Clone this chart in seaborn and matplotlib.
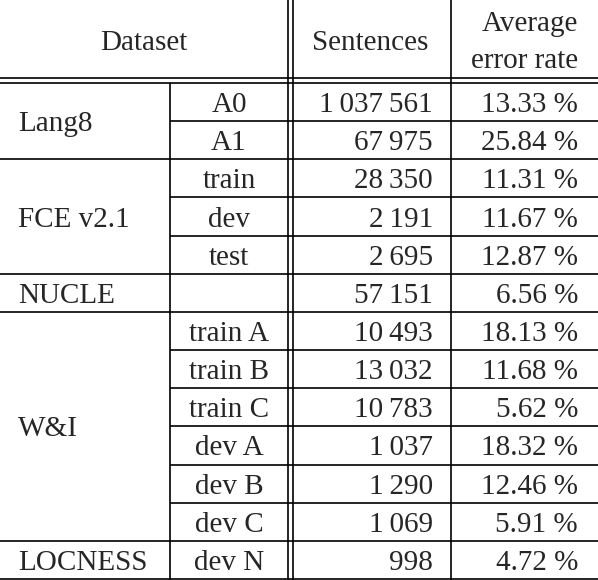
import matplotlib
matplotlib.use("Agg")
import matplotlib.pyplot as plt
import seaborn as sns

sns.set_style("white")
plt.rcParams['font.family'] = ['Liberation Serif', 'DejaVu Serif']

groups = ["Lang8", "FCE v2.1", "NUCLE", "W&I", "LOCNESS"]
group_sizes = [2, 3, 1, 6, 1]
splits = ["A0", "A1", "train", "dev", "test", "", "train A", "train B", "train C",
          "dev A", "dev B", "dev C", "dev N"]
sentences = ["1\u2009037\u2009561", "67\u2009975", "28\u2009350", "2\u2009191", "2\u2009695",
             "57\u2009151", "10\u2009493", "13\u2009032", "10\u2009783", "1\u2009037",
             "1\u2009290", "1\u2009069", "998"]
error_rates = ["13.33 %", "25.84 %", "11.31 %", "11.67 %", "12.87 %", "6.56 %",
               "18.13 %", "11.68 %", "5.62 %", "18.32 %", "12.46 %", "5.91 %", "4.72 %"]

W, H = 598, 580
fig = plt.figure(figsize=(W / 100, H / 100), dpi=100)
ax = fig.add_axes([0, 0, 1, 1])
ax.set_xlim(0, W)
ax.set_ylim(H, 0)
ax.axis("off")

fs = 21
lw = 1.2
top = 83
rh = (H - 1 - top) / 13
x1, x2a, x2b, x3 = 170, 288, 293, 451
dy = 3  # nudge text down to sit on the row centre

# header
ax.text(144, 40 + dy, "Dataset", ha="center", va="center", fontsize=fs)
ax.text(370, 40 + dy, "Sentences", ha="center", va="center", fontsize=fs)
ax.text(578, 21 + dy, "Average", ha="right", va="center", fontsize=fs)
ax.text(578, 58 + dy, "error rate", ha="right", va="center", fontsize=fs)
ax.hlines([78, 83], 0, W, color="black", lw=lw)

# vertical rules
ax.vlines([x2a, x2b], 0, H, color="black", lw=lw)
ax.vlines(x3, 0, H, color="black", lw=lw)
ax.vlines(x1, top, H, color="black", lw=lw)

row = 0
for g, n in zip(groups, group_sizes):
    y0 = top + row * rh
    ax.text(18, y0 + n * rh / 2 + dy, g, ha="left", va="center", fontsize=fs)
    for k in range(n):
        yc = y0 + (k + 0.5) * rh + dy
        ax.text((x1 + x2a) / 2, yc, splits[row + k], ha="center", va="center", fontsize=fs)
        ax.text(433, yc, sentences[row + k], ha="right", va="center", fontsize=fs)
        ax.text(578, yc, error_rates[row + k], ha="right", va="center", fontsize=fs)
        if k > 0:
            ax.hlines(y0 + k * rh, x1, W, color="black", lw=lw)
    row += n
    ax.hlines(top + row * rh, 0, W, color="black", lw=lw)

fig.savefig("out.png", dpi=100)
